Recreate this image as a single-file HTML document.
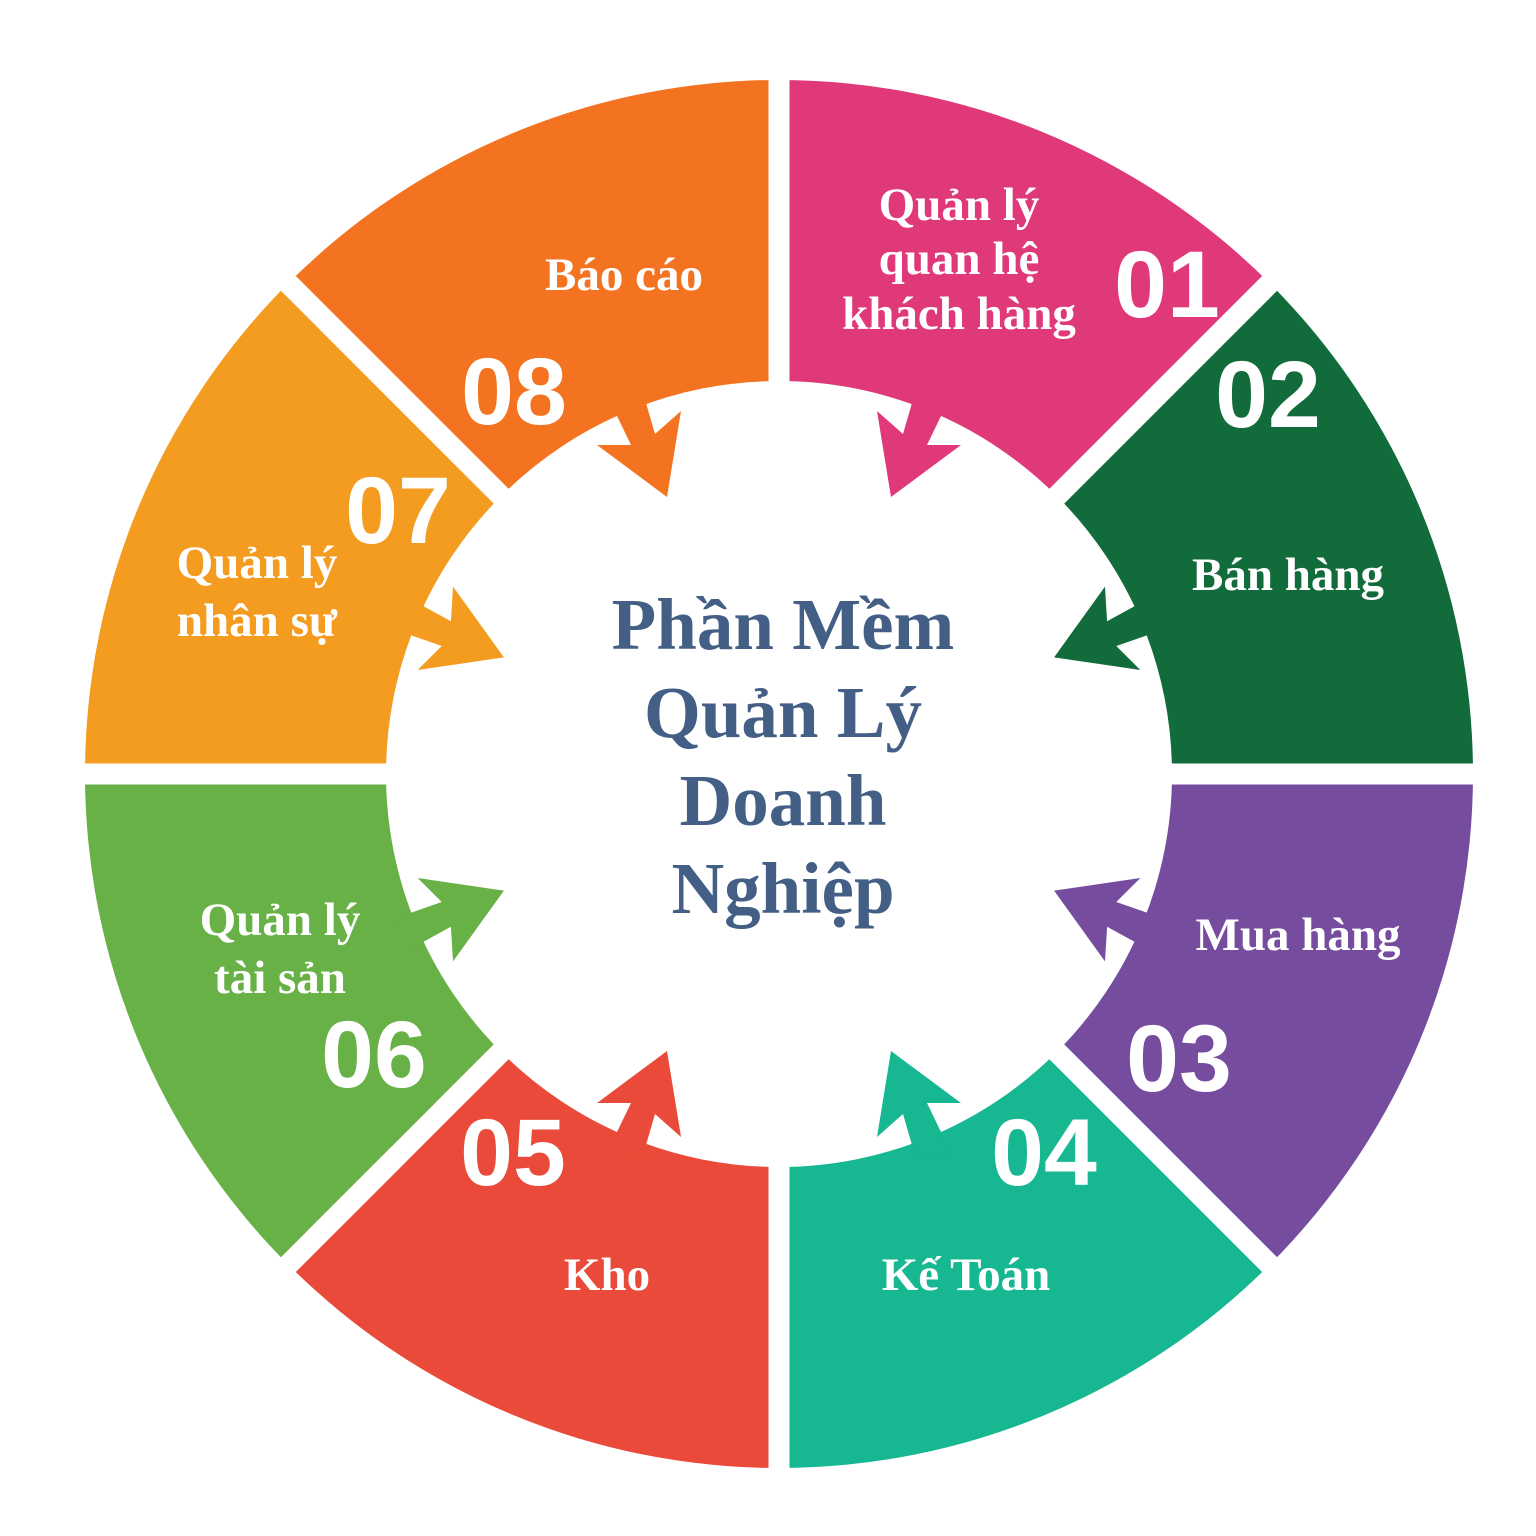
<!DOCTYPE html>
<html><head><meta charset="utf-8"><style>
html,body{margin:0;padding:0;background:#fff;}
svg{display:block;}
.l{font-family:"Liberation Serif",serif;font-weight:bold;font-size:47px;fill:#fff;}
.n{font-family:"Liberation Sans",sans-serif;font-weight:bold;font-size:95px;fill:#fff;}
.c{font-family:"Liberation Serif",serif;font-weight:bold;font-size:73px;fill:#445F85;}
</style></head><body>
<svg width="1536" height="1536" viewBox="0 0 1536 1536" xmlns="http://www.w3.org/2000/svg">
<defs>
<polygon id="ar" points="916,388 912,403 903,434 877,411 891,497 961,445 927,445 941,416 947,392"/>
</defs>
<path fill="#E0397A" d="M779,80 A694,694 0 0 1 1269.7,283.3 L1056.9,496.1 A393,393 0 0 0 779,381 Z"/>
<path fill="#116B3A" d="M1269.7,283.3 A694,694 0 0 1 1473,774 L1172,774 A393,393 0 0 0 1056.9,496.1 Z"/>
<path fill="#754C9E" d="M1473,774 A694,694 0 0 1 1269.7,1264.7 L1056.9,1051.9 A393,393 0 0 0 1172,774 Z"/>
<path fill="#16B791" d="M1269.7,1264.7 A694,694 0 0 1 779,1468 L779,1167 A393,393 0 0 0 1056.9,1051.9 Z"/>
<path fill="#EA4A39" d="M779,1468 A694,694 0 0 1 288.3,1264.7 L501.1,1051.9 A393,393 0 0 0 779,1167 Z"/>
<path fill="#67B146" d="M288.3,1264.7 A694,694 0 0 1 85,774 L386,774 A393,393 0 0 0 501.1,1051.9 Z"/>
<path fill="#F39C20" d="M85,774 A694,694 0 0 1 288.3,283.3 L501.1,496.1 A393,393 0 0 0 386,774 Z"/>
<path fill="#F37321" d="M288.3,283.3 A694,694 0 0 1 779,80 L779,381 A393,393 0 0 0 501.1,496.1 Z"/>
<g stroke="#fff" stroke-width="21">
<line x1="779" y1="60" x2="779" y2="1490"/>
<line x1="60" y1="774" x2="1500" y2="774"/>
<line x1="273" y1="268" x2="1285" y2="1280"/>
<line x1="273" y1="1280" x2="1285" y2="268"/>
</g>
<use href="#ar" fill="#E0397A"/>
<use href="#ar" fill="#116B3A" transform="translate(779,774) rotate(45) translate(-779,-774)"/>
<use href="#ar" fill="#754C9E" transform="translate(779,774) scale(1,-1) rotate(45) translate(-779,-774)"/>
<use href="#ar" fill="#16B791" transform="translate(779,774) scale(1,-1) translate(-779,-774)"/>
<use href="#ar" fill="#EA4A39" transform="translate(779,774) scale(-1,-1) translate(-779,-774)"/>
<use href="#ar" fill="#67B146" transform="translate(779,774) scale(-1,-1) rotate(45) translate(-779,-774)"/>
<use href="#ar" fill="#F39C20" transform="translate(779,774) scale(-1,1) rotate(45) translate(-779,-774)"/>
<use href="#ar" fill="#F37321" transform="translate(779,774) scale(-1,1) translate(-779,-774)"/>

<g text-anchor="middle">
<text class="l" x="959" y="220">Quản lý</text>
<text class="l" x="959" y="274">quan hệ</text>
<text class="l" x="959" y="329">khách hàng</text>
<text class="l" x="1288" y="590">Bán hàng</text>
<text class="l" x="1298" y="950">Mua hàng</text>
<text class="l" x="966" y="1290">Kế Toán</text>
<text class="l" x="607" y="1290">Kho</text>
<text class="l" x="280" y="935">Quản lý</text>
<text class="l" x="280" y="993">tài sản</text>
<text class="l" x="257" y="578">Quản lý</text>
<text class="l" x="257" y="636">nhân sự</text>
<text class="l" x="624" y="290">Báo cáo</text>

<text class="n" x="1167" y="317">01</text>
<text class="n" x="1268" y="427">02</text>
<text class="n" x="1179" y="1091">03</text>
<text class="n" x="1044" y="1185">04</text>
<text class="n" x="513" y="1185">05</text>
<text class="n" x="374" y="1087">06</text>
<text class="n" x="398" y="543">07</text>
<text class="n" x="514" y="424">08</text>

<text class="c" x="783" y="649">Phần Mềm</text>
<text class="c" x="783" y="737">Quản Lý</text>
<text class="c" x="783" y="825">Doanh</text>
<text class="c" x="783" y="913">Nghiệp</text>
</g>
</svg>
</body></html>
